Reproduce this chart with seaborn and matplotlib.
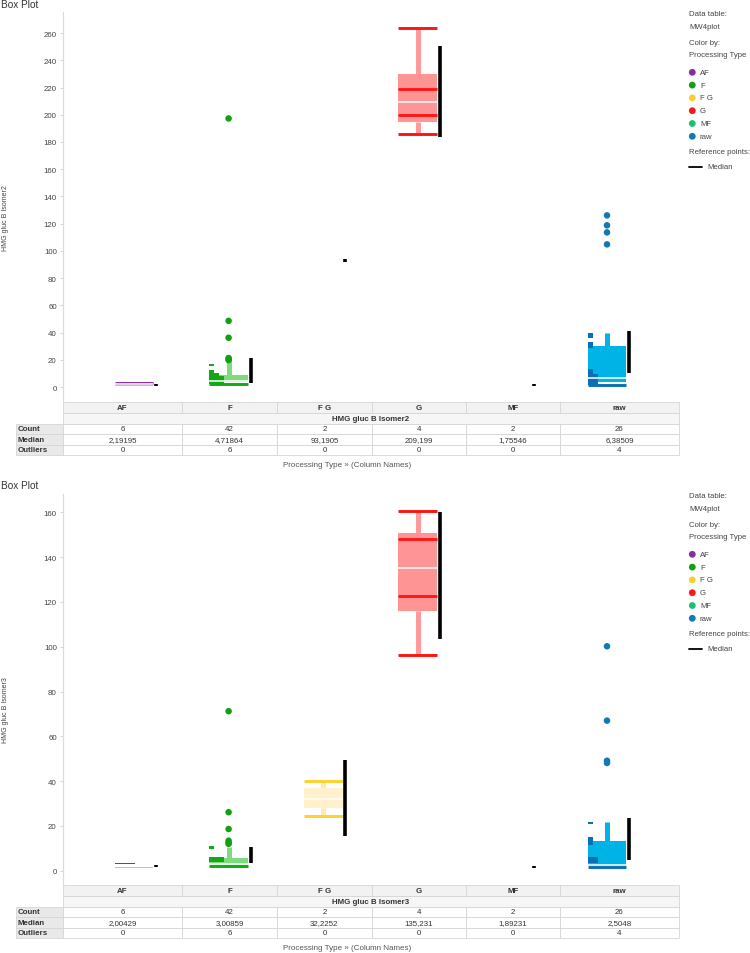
import numpy as np
import pandas as pd
import seaborn as sns
import matplotlib.pyplot as plt

sns.set_theme(style="white")
plt.rcParams['font.family'] = ['Liberation Sans', 'DejaVu Sans']
nan = np.nan

categories = ['AF', 'F', 'F G', 'G', 'MF', 'raw']
point_colors = ['#84309c', '#10a010', '#f7d02c', '#f51a1a', '#19c172', '#1278b6']
fill_colors = ['#dcaae6', '#7ddc7d', '#fff1cc', '#ff9494', '#8fe0b8', '#00b3e6']
whisk_colors = ['#dcaae6', '#7ddc7d', '#ffe9b0', '#ff9a9a', '#8fe0b8', '#00b3e6']
dark_colors = ['#8a2aa0', '#14a814', '#fdd22a', '#ff1414', '#19c172', '#0a6fb4']

# ---- HMG gluc B Isomer2 ----
q1_2 = [0.4, 3.5, nan, 195.0, nan, 3.5]
med_2 = [2.19195, 4.71864, 93.1905, 209.199, 1.75546, 6.38509]
q3_2 = [1.4, 8.6, nan, 229.7, nan, 30.4]
wtop_2 = [nan, 20.5, nan, 263.6, nan, 39.8]
ctop_2 = [2.9, nan, nan, 263.6, nan, nan]
wbot_2 = [nan, nan, nan, 185.6, nan, nan]
cbot_2 = [nan, 2.2, nan, 185.6, nan, 1.5]
inner_2 = [[], [], [], [199.8, 219.0], [], []]
ref_lo_2 = [1.0, 3.2, 92.2, 183.4, 0.8, 10.3]
ref_hi_2 = [2.5, 21.6, 94.4, 250.4, 2.0, 41.0]
out_cat_2 = ['F'] * 6 + ['raw'] * 4
out_val_2 = [197.3, 48.6, 36.2, 21.3, 20.4, 19.8, 126.1, 118.8, 113.6, 104.8]
# darker overlapping slivers at the left of some boxes: (category, slice, low, high)
dark_2 = [('F', 0, 2.2, 12.8), ('F', 0, 15.5, 17.0), ('F', 1, 2.2, 10.0), ('F', 2, 2.2, 8.3),
          ('raw', 0, 1.5, 13.3), ('raw', 0, 28.7, 33.0), ('raw', 0, 36.0, 39.8), ('raw', 1, 1.5, 9.8)]
count_2 = [6, 42, 2, 4, 2, 26]
outn_2 = [0, 6, 0, 0, 0, 4]

# ---- HMG gluc B Isomer3 ----
q1_3 = [1.1, 2.5, 27.9, 115.8, nan, 2.2]
med_3 = [2.00429, 3.00859, 32.2252, 135.231, 1.89231, 2.5048]
q3_3 = [1.8, 5.8, 36.8, 151.0, nan, 13.1]
wtop_3 = [nan, 10.4, 40.2, 160.7, nan, 21.9]
ctop_3 = [nan, nan, 40.2, 160.7, nan, nan]
wbot_3 = [nan, nan, 24.4, 96.2, nan, nan]
cbot_3 = [nan, 1.9, 24.4, 96.2, nan, 1.6]
inner_3 = [[], [], [], [122.6, 147.9], [], []]
ref_lo_3 = [1.5, 3.4, 15.4, 103.4, 1.4, 4.8]
ref_hi_3 = [2.6, 10.4, 49.6, 160.3, 2.3, 23.5]
out_cat_3 = ['F'] * 6 + ['raw'] * 4
out_val_3 = [71.2, 26.1, 18.6, 13.4, 12.4, 12.0, 100.2, 67.0, 49.1, 48.1]
dark_3 = [('AF', 0, 2.8, 3.4), ('AF', 1, 2.8, 3.4), ('AF', 2, 2.8, 3.4), ('AF', 3, 2.8, 3.4),
          ('F', 0, 9.7, 11.0), ('F', 0, 3.7, 6.0), ('F', 1, 3.7, 6.0), ('F', 2, 3.7, 6.0),
          ('raw', 0, 20.8, 21.9), ('raw', 0, 11.5, 15.2), ('raw', 0, 3.3, 6.0), ('raw', 1, 3.3, 6.0)]
count_3 = [6, 42, 2, 4, 2, 26]
outn_3 = [0, 6, 0, 0, 0, 4]

W, H = 750, 954
fig = plt.figure(figsize=(W / 100, H / 100), dpi=100)
fig.patch.set_facecolor('white')

HW = 0.205      # half box width (category units)
SW = 0.053      # sliver width
TXT = '#444444'


def px_axes(x0, y0, x1, y1):
    return fig.add_axes([x0 / W, 1 - y1 / H, (x1 - x0) / W, (y1 - y0) / H])


def draw_panel(ax, q1, med, q3, wtop, ctop, wbot, cbot, inner, rlo, rhi, ocat, oval, dark, ylim, yticks):
    for i, c in enumerate(categories):
        if not np.isnan(wtop[i]):
            ax.vlines(i, q3[i], wtop[i], color=whisk_colors[i], lw=3.6, zorder=1)
        if not np.isnan(wbot[i]):
            ax.vlines(i, wbot[i], q1[i], color=whisk_colors[i], lw=3.6, zorder=1)
        if not np.isnan(q1[i]):
            ax.bar(i, q3[i] - q1[i], bottom=q1[i], width=2 * HW, color=fill_colors[i],
                   linewidth=0, zorder=2)
            ax.hlines(med[i], i - HW, i + HW, color='white', lw=1.1, zorder=4)
        for v in inner[i]:
            ax.hlines(v, i - HW, i + HW, color=dark_colors[i], lw=2.0, zorder=3)
        for v in (ctop[i], cbot[i]):
            if not np.isnan(v):
                ax.hlines(v, i - HW, i + HW, color=dark_colors[i], lw=2.1, zorder=3)
        ax.vlines(i + 0.232, rlo[i], rhi[i], color='black', lw=2.6, zorder=5)
    for c, k, lo, hi in dark:
        i = categories.index(c)
        ax.bar(i - HW + k * SW, hi - lo, bottom=lo, width=SW, align='edge',
               color=dark_colors[i], linewidth=0, zorder=3)
    df = pd.DataFrame({'x': [categories.index(c) for c in ocat], 'y': oval, 'cat': ocat})
    sns.scatterplot(data=df, x='x', y='y', hue='cat', palette=dict(zip(categories, point_colors)),
                    s=22, linewidth=0, legend=False, ax=ax, zorder=6)
    ax.set_xlim(-0.7505, 5.761)
    ax.set_ylim(*ylim)
    ax.set_xticks([])
    ax.set_yticks(yticks)
    ax.set_xlabel('')
    ax.set_ylabel('')
    for s in ['top', 'right', 'bottom']:
        ax.spines[s].set_visible(False)
    ax.spines['left'].set_color('#dadada')
    ax.spines['left'].set_linewidth(0.8)
    ax.tick_params(axis='y', left=True, length=2.5, width=0.6, color='#cfcfcf',
                   labelsize=5.7, labelcolor=TXT, pad=2)
    ax.set_facecolor('none')


ax1 = px_axes(63, 13, 679, 403)
draw_panel(ax1, q1_2, med_2, q3_2, wtop_2, ctop_2, wbot_2, cbot_2, inner_2, ref_lo_2, ref_hi_2,
           out_cat_2, out_val_2, dark_2, (-11, 275.5), range(0, 261, 20))
ax2 = px_axes(63, 495, 679, 886)
draw_panel(ax2, q1_3, med_3, q3_3, wtop_3, ctop_3, wbot_3, cbot_3, inner_3, ref_lo_3, ref_hi_3,
           out_cat_3, out_val_3, dark_3, (-6.4, 168.2), range(0, 161, 20))

# overlay in pixel units for titles, tables, legends
ov = fig.add_axes([0, 0, 1, 1])
ov.set_xlim(0, W)
ov.set_ylim(H, 0)
ov.axis('off')
ov.patch.set_alpha(0)

col_edges = [63, 182, 277, 372, 466, 560, 679]
row_edges = [0, 11, 21.5, 32, 42.5, 53]
GRID = '#d6d6d6'


def rect(x0, y0, x1, y1, fc):
    ov.add_patch(plt.Rectangle((x0, y0), x1 - x0, y1 - y0, facecolor=fc, edgecolor=GRID, lw=0.6))


def draw_table(top, name, counts, medians, outn):
    r = [top + e for e in row_edges]
    for j, c in enumerate(categories):
        rect(col_edges[j], r[0], col_edges[j + 1], r[1], '#f2f2f2')
        ov.text((col_edges[j] + col_edges[j + 1]) / 2, (r[0] + r[1]) / 2, c, ha='center',
                va='center', fontsize=5.7, fontweight='bold', color='#333333')
    rect(col_edges[0], r[1], col_edges[-1], r[2], '#f6f6f6')
    ov.text((col_edges[0] + col_edges[-1]) / 2, (r[1] + r[2]) / 2, name, ha='center',
            va='center', fontsize=5.7, fontweight='bold', color='#333333')
    rows = [('Count', [str(v) for v in counts]),
            ('Median', [str(v).replace('.', ',') for v in medians]),
            ('Outliers', [str(v) for v in outn])]
    for k, (lab, vals) in enumerate(rows):
        y0, y1 = r[k + 2], r[k + 3]
        rect(16, y0, 63, y1, '#e9e9e9')
        ov.text(17.5, (y0 + y1) / 2, lab, ha='left', va='center', fontsize=5.7,
                fontweight='bold', color='#333333')
        for j, v in enumerate(vals):
            rect(col_edges[j], y0, col_edges[j + 1], y1, 'white')
            ov.text((col_edges[j] + col_edges[j + 1]) / 2, (y0 + y1) / 2, v, ha='center',
                    va='center', fontsize=5.7, color='#333333')


def draw_legend(dy):
    items = [(15, 'Data table:'), (27.3, 'MW4plot'), (43.7, 'Color by:'), (55.3, 'Processing Type'),
             (152.3, 'Reference points:')]
    for y, t in items:
        ov.text(689, y + dy, t, ha='left', va='center', fontsize=5.6, color=TXT)
    ys = [73.3 + 12.8 * k + dy for k in range(len(categories))]
    sns.scatterplot(x=[692.3] * len(categories), y=ys, hue=categories,
                    palette=dict(zip(categories, point_colors)), s=24, linewidth=0,
                    legend=False, ax=ov)
    for y, c in zip(ys, categories):
        ov.text(700, y, c, ha='left', va='center', fontsize=5.6, color=TXT)
    ov.plot([689, 702], [167.7 + dy] * 2, color='black', lw=1.3)
    ov.text(707, 167.7 + dy, 'Median', ha='left', va='center', fontsize=5.6, color=TXT)


for top, title_y, ylab_y, name, counts, meds, outn, dy, xl_y in [
        (403, 5, 218, 'HMG gluc B Isomer2', count_2, med_2, outn_2, 0, 466),
        (886, 486, 710, 'HMG gluc B Isomer3', count_3, med_3, outn_3, 482, 949)]:
    ov.text(1, title_y, 'Box Plot', ha='left', va='center', fontsize=7.2, color='#333333')
    ov.text(6, ylab_y, name, ha='center', va='center', rotation=90, fontsize=5, color=TXT)
    draw_table(top, name, counts, meds, outn)
    draw_legend(dy)
    ov.text(347.5, xl_y, 'Processing Type \u00bb (Column Names)', ha='center', va='center',
            fontsize=5.8, color='#555555')

ov.set_xlim(0, W)
ov.set_ylim(H, 0)
ov.set_xlabel('')
ov.set_ylabel('')

fig.savefig('out.png', dpi=100, facecolor='white')
